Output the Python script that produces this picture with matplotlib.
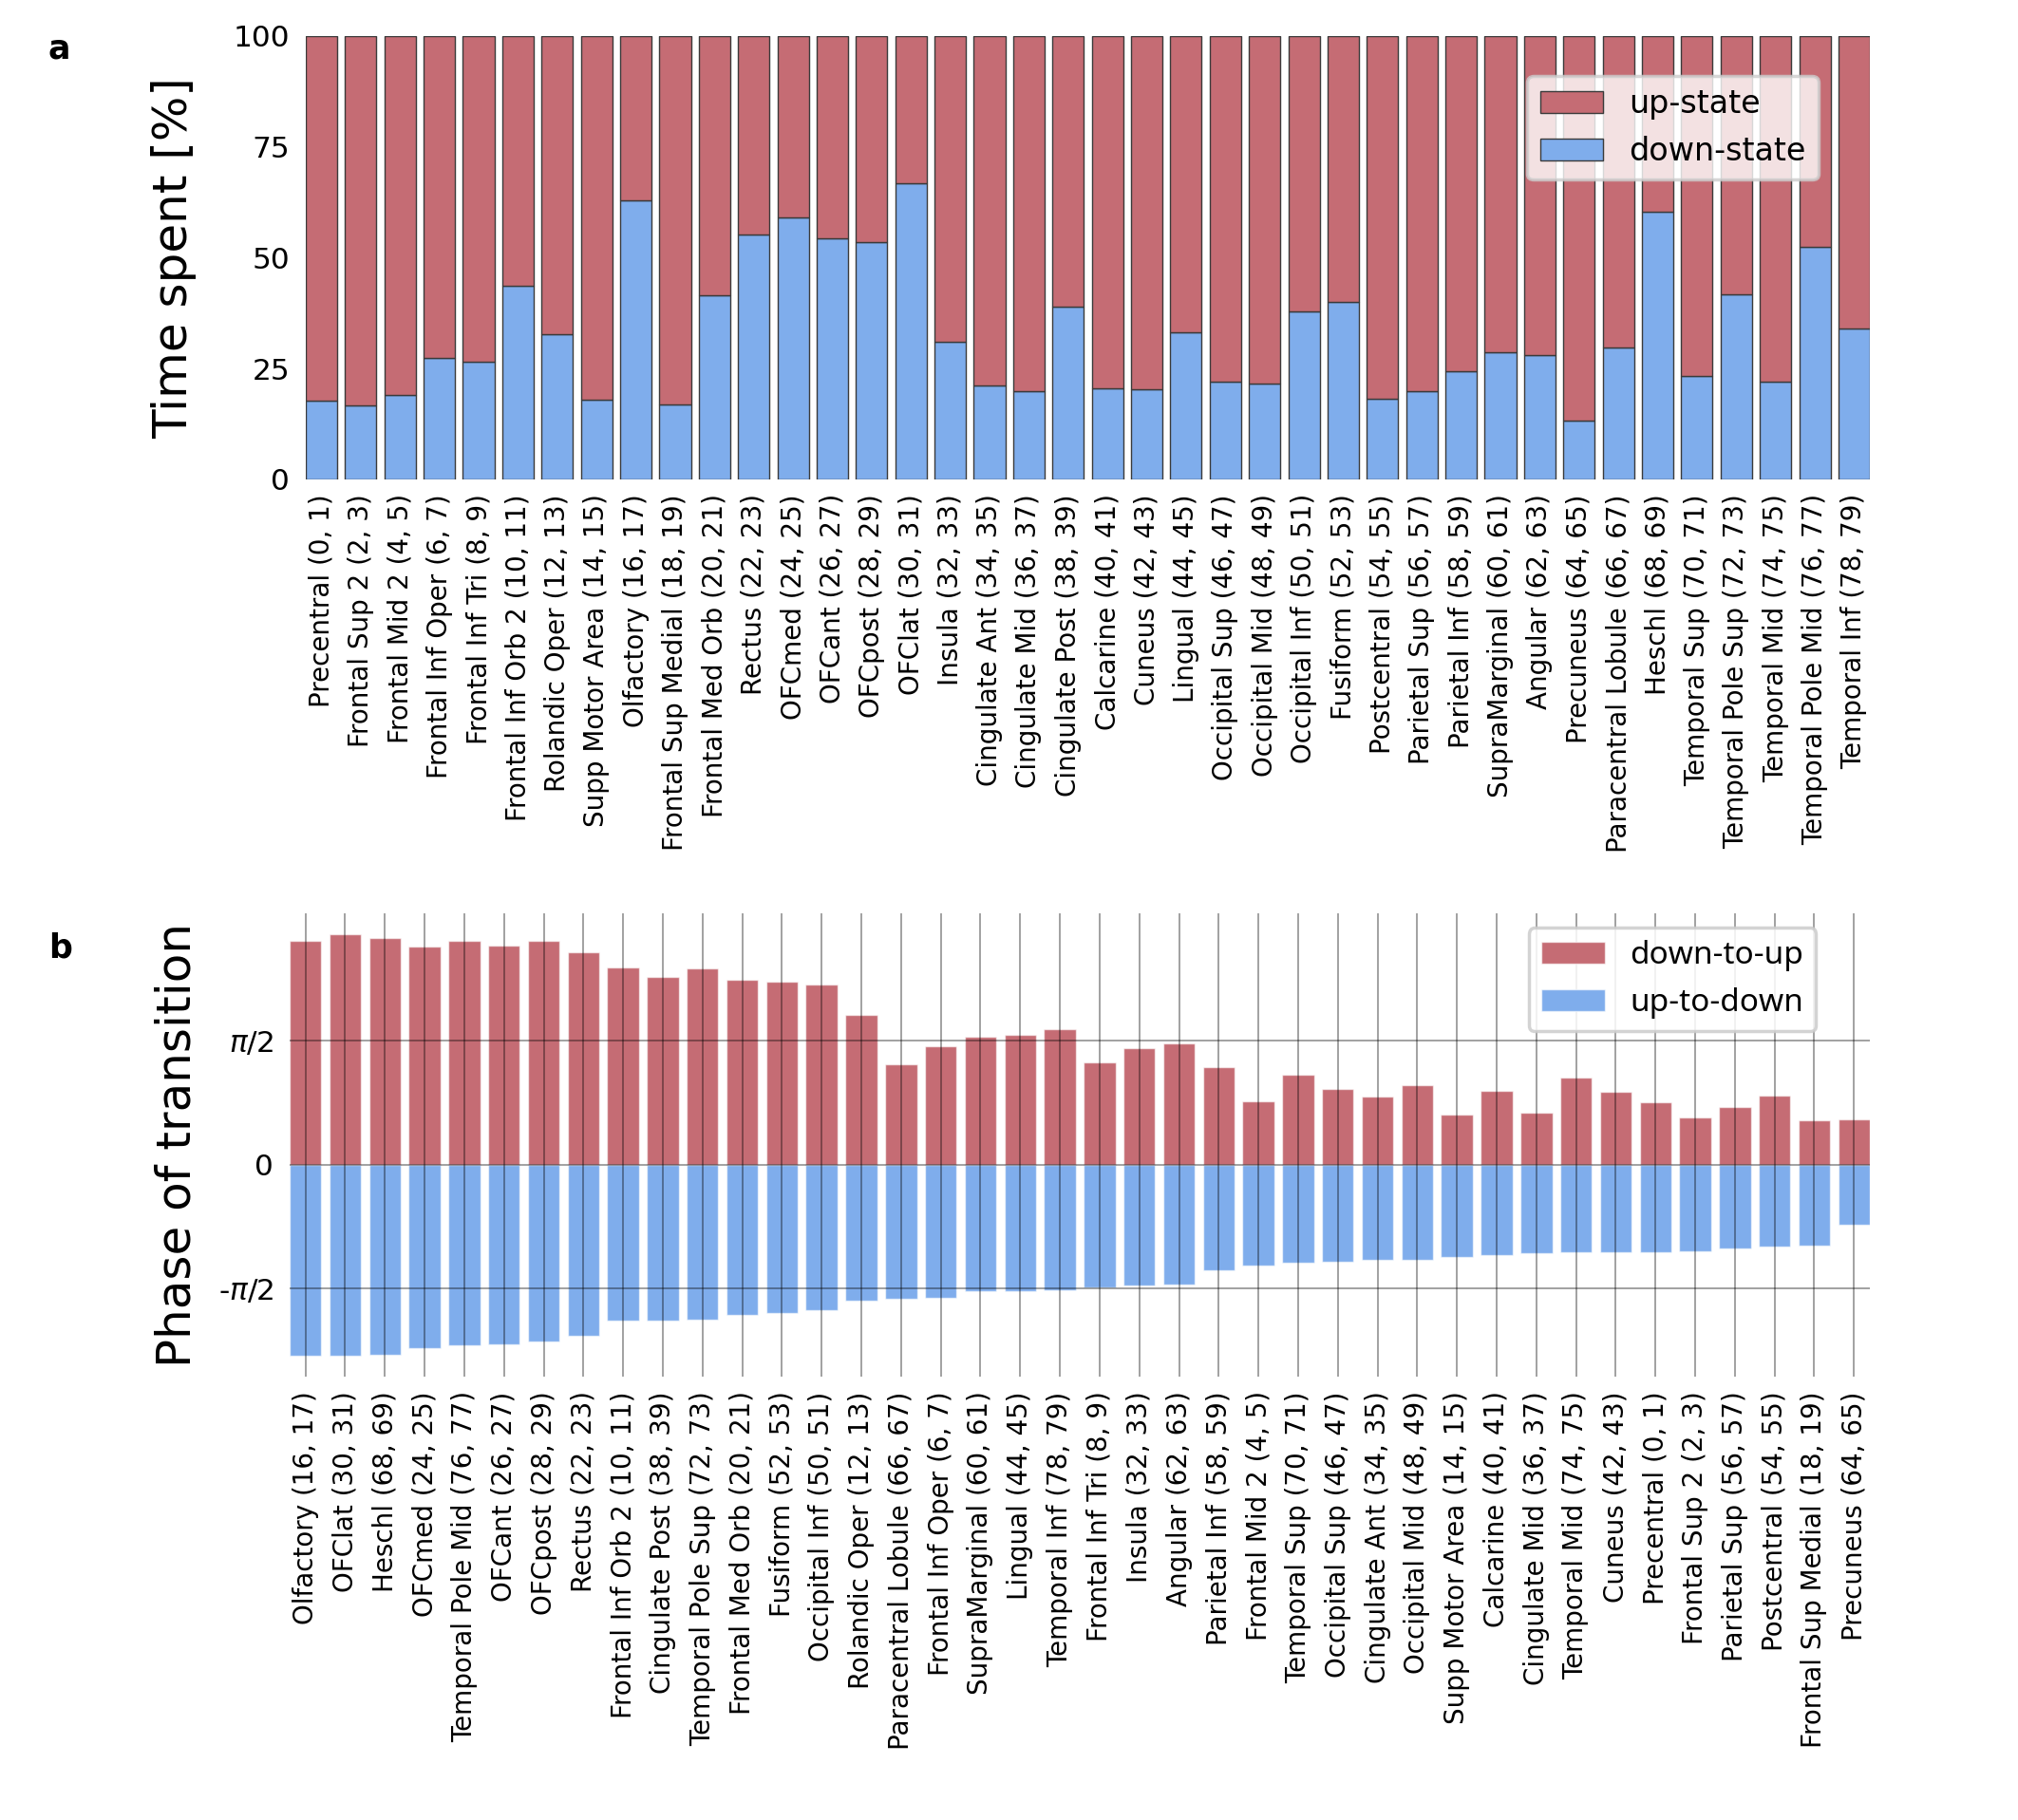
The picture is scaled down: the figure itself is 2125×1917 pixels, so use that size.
import numpy as np
import matplotlib
matplotlib.use("Agg")
import matplotlib.pyplot as plt

# ---------------- data ----------------
regions_a = ["Precentral (0, 1)", "Frontal Sup 2 (2, 3)", "Frontal Mid 2 (4, 5)",
             "Frontal Inf Oper (6, 7)", "Frontal Inf Tri (8, 9)", "Frontal Inf Orb 2 (10, 11)",
             "Rolandic Oper (12, 13)", "Supp Motor Area (14, 15)", "Olfactory (16, 17)",
             "Frontal Sup Medial (18, 19)", "Frontal Med Orb (20, 21)", "Rectus (22, 23)",
             "OFCmed (24, 25)", "OFCant (26, 27)", "OFCpost (28, 29)", "OFClat (30, 31)",
             "Insula (32, 33)", "Cingulate Ant (34, 35)", "Cingulate Mid (36, 37)",
             "Cingulate Post (38, 39)", "Calcarine (40, 41)", "Cuneus (42, 43)",
             "Lingual (44, 45)", "Occipital Sup (46, 47)", "Occipital Mid (48, 49)",
             "Occipital Inf (50, 51)", "Fusiform (52, 53)", "Postcentral (54, 55)",
             "Parietal Sup (56, 57)", "Parietal Inf (58, 59)", "SupraMarginal (60, 61)",
             "Angular (62, 63)", "Precuneus (64, 65)", "Paracentral Lobule (66, 67)",
             "Heschl (68, 69)", "Temporal Sup (70, 71)", "Temporal Pole Sup (72, 73)",
             "Temporal Mid (74, 75)", "Temporal Pole Mid (76, 77)", "Temporal Inf (78, 79)"]

down_state = [17.8, 16.7, 19.0, 27.5, 26.6, 43.7, 32.8, 17.9, 63.0, 16.8,
              41.5, 55.3, 59.1, 54.3, 53.6, 66.8, 31.1, 21.1, 20.0, 39.0,
              20.6, 20.3, 33.2, 22.0, 21.7, 37.9, 40.1, 18.1, 19.8, 24.3,
              28.6, 28.1, 13.3, 29.7, 60.4, 23.3, 41.8, 22.0, 52.5, 34.0]
up_state = [100.0 - d for d in down_state]

regions_b = ["Olfactory (16, 17)", "OFClat (30, 31)", "Heschl (68, 69)", "OFCmed (24, 25)",
             "Temporal Pole Mid (76, 77)", "OFCant (26, 27)", "OFCpost (28, 29)",
             "Rectus (22, 23)", "Frontal Inf Orb 2 (10, 11)", "Cingulate Post (38, 39)",
             "Temporal Pole Sup (72, 73)", "Frontal Med Orb (20, 21)", "Fusiform (52, 53)",
             "Occipital Inf (50, 51)", "Rolandic Oper (12, 13)", "Paracentral Lobule (66, 67)",
             "Frontal Inf Oper (6, 7)", "SupraMarginal (60, 61)", "Lingual (44, 45)",
             "Temporal Inf (78, 79)", "Frontal Inf Tri (8, 9)", "Insula (32, 33)",
             "Angular (62, 63)", "Parietal Inf (58, 59)", "Frontal Mid 2 (4, 5)",
             "Temporal Sup (70, 71)", "Occipital Sup (46, 47)", "Cingulate Ant (34, 35)",
             "Occipital Mid (48, 49)", "Supp Motor Area (14, 15)", "Calcarine (40, 41)",
             "Cingulate Mid (36, 37)", "Temporal Mid (74, 75)", "Cuneus (42, 43)",
             "Precentral (0, 1)", "Frontal Sup 2 (2, 3)", "Parietal Sup (56, 57)",
             "Postcentral (54, 55)", "Frontal Sup Medial (18, 19)", "Precuneus (64, 65)"]

down_to_up = [2.834, 2.924, 2.875, 2.761, 2.830, 2.773, 2.838, 2.695, 2.503, 2.376,
              2.487, 2.344, 2.323, 2.282, 1.898, 1.276, 1.497, 1.616, 1.648, 1.718,
              1.297, 1.476, 1.538, 1.235, 0.798, 1.137, 0.961, 0.859, 1.006, 0.638,
              0.937, 0.663, 1.100, 0.916, 0.785, 0.601, 0.724, 0.875, 0.564, 0.577]
up_to_down = [-2.425, -2.425, -2.413, -2.323, -2.286, -2.278, -2.245, -2.172, -1.980, -1.980,
              -1.971, -1.906, -1.881, -1.849, -1.726, -1.706, -1.693, -1.611, -1.603, -1.591,
              -1.554, -1.538, -1.521, -1.337, -1.276, -1.239, -1.231, -1.211, -1.207, -1.174,
              -1.145, -1.129, -1.117, -1.112, -1.112, -1.096, -1.063, -1.039, -1.022, -0.761]

ytick_a = [0, 25, 50, 75, 100]
ytick_b = [-np.pi / 2, 0, np.pi / 2]
ytick_b_labels = [r"-$\pi$/2", "0", r"$\pi$/2"]

RED = "#C56C74"
BLUE = "#7FADEC"

# ---------------- figure ----------------
plt.rcParams["font.family"] = ["DejaVu Sans"]
plt.rcParams["mathtext.fontset"] = "dejavusans"
fig = plt.figure(figsize=(21.25, 19.17), dpi=100)

# Panel a
ax1 = fig.add_axes([0.1515, 0.7366, 0.9266 - 0.1515, 0.9802 - 0.7366])
x = np.arange(len(regions_a))
ax1.bar(x, down_state, width=0.8, color=BLUE, edgecolor="#3a3a3a", linewidth=1.0,
        label="down-state")
ax1.bar(x, up_state, width=0.8, bottom=down_state, color=RED, edgecolor="#3a3a3a",
        linewidth=1.0, label="up-state")
ax1.set_xlim(-0.4, len(regions_a) - 0.6)
ax1.set_ylim(0, 100)
ax1.set_yticks(ytick_a)
ax1.set_xticks(x)
ax1.set_xticklabels(regions_a, rotation=90, fontsize=20)
ax1.tick_params(axis="y", labelsize=22.5, length=0, pad=12)
ax1.tick_params(axis="x", length=0, pad=11)
for s in ax1.spines.values():
    s.set_visible(False)
ax1.set_ylabel("Time spent [%]", fontsize=36, labelpad=28)
h, l = ax1.get_legend_handles_labels()
leg1 = ax1.legend(h[::-1], l[::-1], loc="upper right", bbox_to_anchor=(0.967, 0.91),
                  borderaxespad=0, fontsize=24, framealpha=0.8, edgecolor="#cccccc",
                  fancybox=True)
leg1.get_frame().set_linewidth(2.5)
fig.text(0.024, 0.982, "a", fontsize=25, fontweight="bold", va="top")

# Panel b
ax2 = fig.add_axes([0.1435, 0.2436, 0.9266 - 0.1435, 0.4982 - 0.2436])
xb = np.arange(len(regions_b))
ax2.bar(xb, down_to_up, width=0.8, color=RED, edgecolor=(1, 1, 1, 0.6), linewidth=1.0,
        label="down-to-up")
ax2.bar(xb, up_to_down, width=0.8, color=BLUE, edgecolor=(1, 1, 1, 0.6), linewidth=1.0,
        label="up-to-down")
ax2.set_xlim(-0.4, len(regions_b) - 0.6)
ax2.set_ylim(-2.689, 3.185)
ax2.set_yticks(ytick_b)
ax2.set_yticklabels(ytick_b_labels)
ax2.set_xticks(xb)
ax2.set_xticklabels(regions_b, rotation=90, fontsize=20)
ax2.tick_params(axis="y", labelsize=22.5, length=0, pad=12)
ax2.tick_params(axis="x", length=0, pad=11)
for s in ax2.spines.values():
    s.set_visible(False)
ax2.set_axisbelow(False)
ax2.grid(True, color="black", alpha=0.4, linewidth=1.3)
ax2.set_ylabel("Phase of transition", fontsize=36, labelpad=14)
leg2 = ax2.legend(loc="upper right", bbox_to_anchor=(0.966, 0.969), borderaxespad=0,
                  prop={"family": ["Noto Sans", "DejaVu Sans"], "size": 24},
                  framealpha=0.85, edgecolor="#cccccc", fancybox=True)
leg2.get_frame().set_linewidth(2.5)
leg2.set_zorder(5)
fig.text(0.024, 0.488, "b", fontsize=25, fontweight="bold", va="top")

fig.savefig("out.png", dpi=100)
